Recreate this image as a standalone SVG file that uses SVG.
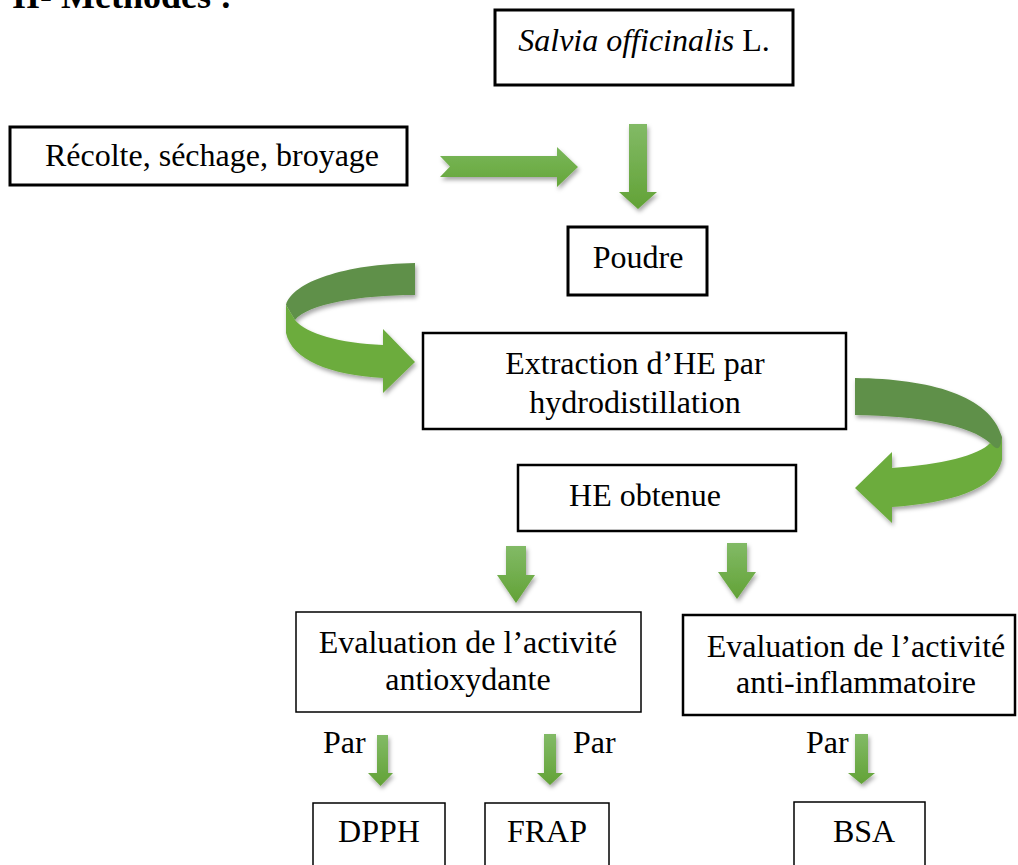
<svg xmlns="http://www.w3.org/2000/svg" width="1018" height="865" viewBox="0 0 1018 865">
<style>
.t{font-family:"Liberation Serif","Times New Roman",serif;font-size:32px;fill:#000}
.b{fill:#fff;stroke:#000}
.ar{fill:url(#g);filter:url(#sh)}
</style>
<defs>
<linearGradient id="g" x1="0" y1="0" x2="0" y2="1"><stop offset="0" stop-color="#82ba66"/><stop offset="1" stop-color="#62a236"/></linearGradient>
<linearGradient id="gh" x1="0" y1="0" x2="0" y2="1"><stop offset="0" stop-color="#7ab75a"/><stop offset="1" stop-color="#66a63a"/></linearGradient>
<filter id="sh" x="-30%" y="-30%" width="160%" height="160%"><feDropShadow dx="1.5" dy="3" stdDeviation="2" flood-color="#000" flood-opacity="0.35"/></filter>
</defs>
<text x="12" y="8" style="font-family:'Liberation Serif','Times New Roman',serif;font-size:36px;font-weight:bold">II- Méthodes :</text>
<g id="connectors">
<path class="ar" style="fill:url(#gh)" d="M440,156 L557,156 L557,147 L578,167 L557,187 L557,177 L440,177 L450,166.5 Z"/>
<path class="ar" d="M629,124 L647,124 L647,192 L657,192 L638,209 L619,192 L629,192 Z"/>
<g filter="url(#sh)">
<path fill="#5f9048" d="M415,263 L415,295 C360,295 308,304 295,320 L286,305 C292,282 345,264 415,263 Z"/>
<path fill="#6cac3e" d="M286,305 L295,320 C306,334 340,343 383,345 L383,329 L415,362 L383,393 L383,378 C330,375 292,360 286,333 Z"/>
</g>
<g filter="url(#sh)">
<path fill="#5f9048" d="M855,378 C930,379 990,395 1002,437 L1001,458 C995,450 992,446 990,443 C970,425 920,416 855,415 Z"/>
<path fill="#6cac3e" d="M990,443 C996,449 1000,453 1002,437 L1002,460 C995,490 950,503 892,507 L892,523 L855,488 L892,452 L892,468 C940,465 980,455 990,443 Z"/>
</g>
<path class="ar" d="M506,546 L526,546 L526,575 L535,575 L516,603 L497,575 L506,575 Z"/>
<path class="ar" d="M727,543 L747,543 L747,572 L756,572 L737,599 L718,572 L727,572 Z"/>
<path class="ar" d="M377,735 L388,735 L388,773 L393,773 L380.5,786 L368,773 L377,773 Z"/>
<path class="ar" d="M544,734 L556,734 L556,773 L563,773 L550,785 L537,773 L544,773 Z"/>
<path class="ar" d="M855,734 L868,734 L868,773 L875,773 L861.5,784 L848,773 L855,773 Z"/>
</g>
<g id="salvia"><rect class="b" x="495" y="10" width="298" height="75" stroke-width="3"/><text class="t" x="644" y="51" text-anchor="middle"><tspan font-style="italic">Salvia officinalis</tspan> L.</text></g>
<g id="recolte"><rect class="b" x="10" y="127" width="397" height="58" stroke-width="3"/><text class="t" x="212" y="166" text-anchor="middle">Récolte, séchage, broyage</text></g>
<g id="poudre"><rect class="b" x="568" y="227" width="139" height="68" stroke-width="3"/><text class="t" x="638" y="268" text-anchor="middle">Poudre</text></g>
<g id="extraction"><rect class="b" x="423" y="333" width="423" height="96" stroke-width="2.5"/><text class="t" x="635" y="374" text-anchor="middle">Extraction d’HE par</text><text class="t" x="635" y="413" text-anchor="middle">hydrodistillation</text></g>
<g id="he"><rect class="b" x="518" y="465" width="278" height="66" stroke-width="2.5"/><text class="t" x="645" y="506" text-anchor="middle">HE obtenue</text></g>
<g id="antiox"><rect class="b" x="296" y="612" width="345" height="100" stroke-width="1.5"/><text class="t" x="468" y="653" text-anchor="middle">Evaluation de l’activité</text><text class="t" x="468" y="690" text-anchor="middle">antioxydante</text></g>
<g id="antiinf"><rect class="b" x="683" y="615" width="332" height="100" stroke-width="2.5"/><text class="t" x="856" y="657" text-anchor="middle">Evaluation de l’activité</text><text class="t" x="856" y="693" text-anchor="middle">anti-inflammatoire</text></g>
<g id="par"><text class="t" x="323" y="753">Par</text><text class="t" x="573" y="753">Par</text><text class="t" x="806" y="753">Par</text></g>
<g id="dpph"><rect class="b" x="313" y="803" width="132" height="80" stroke-width="1.5"/><text class="t" x="379" y="842" text-anchor="middle">DPPH</text></g>
<g id="frap"><rect class="b" x="485" y="803" width="124" height="80" stroke-width="1.5"/><text class="t" x="547" y="842" text-anchor="middle">FRAP</text></g>
<g id="bsa"><rect class="b" x="794" y="802" width="131" height="80" stroke-width="1.5"/><text class="t" x="864" y="842" text-anchor="middle">BSA</text></g>
</svg>
